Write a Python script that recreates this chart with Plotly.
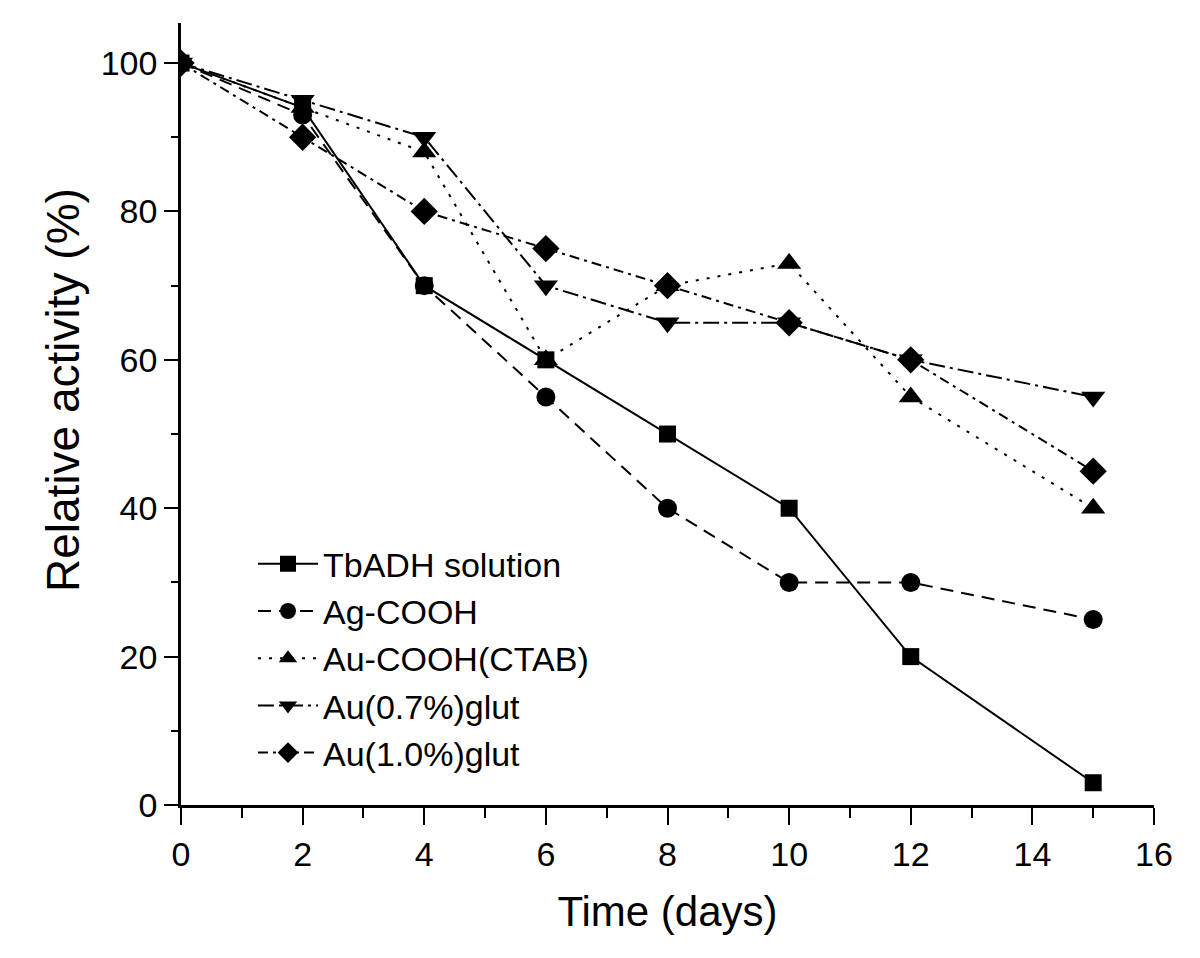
import plotly.graph_objects as go

days = [0, 2, 4, 6, 8, 10, 12, 15]
tbadh = [100, 94, 70, 60, 50, 40, 20, 3]
ag_cooh = [100, 93, 70, 55, 40, 30, 30, 25]
au_cooh_ctab = [100, 94, 88, 60, 70, 73, 55, 40]
au07 = [100, 95, 90, 70, 65, 65, 60, 55]
au10 = [100, 90, 80, 75, 70, 65, 60, 45]

series = [
    ("TbADH solution", tbadh, "solid", "square", 17),
    ("Ag-COOH", ag_cooh, "13px,8px", "circle", 19),
    ("Au-COOH(CTAB)", au_cooh_ctab, "3px,8px", "triangle-up", 21),
    ("Au(0.7%)glut", au07, "16px,5px,3px,5px", "triangle-down", 21),
    ("Au(1.0%)glut", au10, "10px,5px,3px,5px", "diamond", 21),
]

fig = go.Figure()
for i, (name, vals, dash, sym, sz) in enumerate(series):
    fig.add_trace(go.Scatter(
        x=days, y=vals, name=name, mode="lines+markers",
        line=dict(color="black", width=2, dash=dash),
        marker=dict(symbol=sym, size=sz, color="black"),
    ))

font_family = "Liberation Sans, Arial, sans-serif"
# page body has an 8px default margin; compensate so the plot area lands at 181..1154 x 23..805
fig.update_layout(
    width=1200, height=958,
    paper_bgcolor="white", plot_bgcolor="white",
    margin=dict(l=173, r=54, t=15, b=161),
    font=dict(family=font_family, color="black"),
    showlegend=True,
    legend=dict(
        x=0.074, y=0.345, xanchor="left", yanchor="top",
        font=dict(size=34, family=font_family, color="black"),
        bgcolor="rgba(0,0,0,0)",
        itemwidth=60,
    ),
    xaxis=dict(
        range=[0, 16], dtick=2, tick0=0,
        showline=True, linecolor="black", linewidth=2.5,
        ticks="outside", ticklen=17, tickwidth=2, tickcolor="black",
        minor=dict(dtick=1, ticks="outside", ticklen=10, tickwidth=2, tickcolor="black"),
        showgrid=False, zeroline=False,
        tickfont=dict(size=34, family=font_family),
        title=dict(text="Time (days)", font=dict(size=42, family=font_family), standoff=26),
    ),
    yaxis=dict(
        range=[0, 105.4], dtick=20, tick0=0,
        showline=True, linecolor="black", linewidth=2.5,
        ticks="outside", ticklen=14, tickwidth=2, tickcolor="black",
        minor=dict(dtick=10, ticks="outside", ticklen=7, tickwidth=2, tickcolor="black"),
        showgrid=False, zeroline=False,
        tickfont=dict(size=34, family=font_family),
    ),
    annotations=[dict(
        text="Relative activity (%)", textangle=-90,
        xref="paper", yref="paper", x=0, y=0.5,
        xanchor="center", yanchor="middle",
        xshift=-118, yshift=24, showarrow=False,
        font=dict(size=46, family=font_family, color="black"),
    )],
)

fig.write_html("out.html")
